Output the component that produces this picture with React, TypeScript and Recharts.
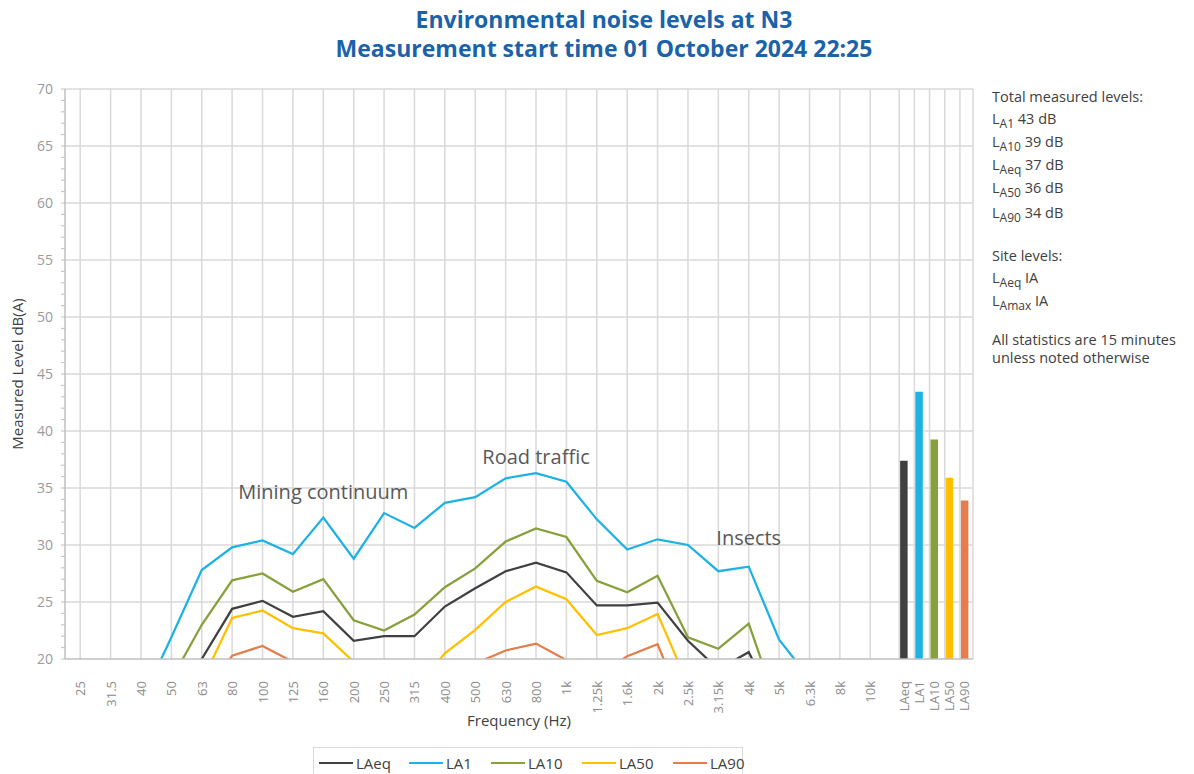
import React from 'react'
import { ComposedChart, Line, Bar, Cell, XAxis, YAxis, CartesianGrid, ReferenceDot } from 'recharts'

// one-third octave band centre frequencies
const FREQS = ['25', '31.5', '40', '50', '63', '80', '100', '125', '160', '200', '250', '315', '400', '500', '630', '800', '1k', '1.25k', '1.6k', '2k', '2.5k', '3.15k', '4k', '5k', '6.3k', '8k', '10k']

// band levels dB(A), values under 20 are off the bottom of the chart
const LAEQ = [10, 11, 12, 15, 20.0, 24.4, 25.1, 23.7, 24.2, 21.6, 22.0, 22.0, 24.6, 26.2, 27.7, 28.45, 27.6, 24.7, 24.7, 24.95, 21.6, 19.1, 20.6, 15.3, 13, 11, 9]
const LA1 = [12, 14, 16.2, 21.9, 27.8, 29.8, 30.4, 29.2, 32.4, 28.8, 32.8, 31.5, 33.7, 34.2, 35.85, 36.3, 35.55, 32.25, 29.6, 30.5, 30.0, 27.7, 28.1, 21.7, 18.3, 16, 14]
const LA10 = [11, 12.5, 14, 18.2, 23.0, 26.9, 27.5, 25.9, 27.0, 23.4, 22.5, 23.9, 26.3, 27.95, 30.3, 31.45, 30.7, 26.85, 25.85, 27.3, 21.9, 20.9, 23.1, 15.4, 13, 11.5, 10]
const LA50 = [9, 10, 11, 13, 18.0, 23.6, 24.25, 22.7, 22.25, 19.75, 17.5, 17.3, 20.5, 22.55, 25.0, 26.35, 25.25, 22.1, 22.7, 23.95, 17.8, 16.5, 17.5, 13, 11, 10, 9]
const LA90 = [8, 9, 10, 12, 16, 20.3, 21.15, 19.75, 18, 16.5, 16, 16.5, 17.5, 19.6, 20.75, 21.35, 19.9, 18.5, 20.25, 21.3, 14.8, 13, 13.5, 11, 10, 9, 8]

// overall levels shown as bars at the right
const TOTAL_NAMES = ['LAeq', 'LA1', 'LA10', 'LA50', 'LA90']
const TOTALS = [37.4, 43.45, 39.25, 35.9, 33.9]

const Y_TICKS = Array.from({ length: 51 }, (_, i) => 20 + i)
const Y_GRID = [25, 30, 35, 40, 45, 50, 55, 60, 65, 70]

const COLORS: Record<string, string> = {
  LAeq: '#404040',
  LA1: '#1cb2e3',
  LA10: '#86a03c',
  LA50: '#ffc000',
  LA90: '#e47c4c',
}

const FONT = '"Open Sans", "Noto Sans", sans-serif'

const barX = (k: number) => FREQS.length + 0.1 + k * 0.5
const X_MAX = FREQS.length + 2.38

const rows = [
  ...FREQS.map((_, i) => ({ x: i, LAeq: LAEQ[i], LA1: LA1[i], LA10: LA10[i], LA50: LA50[i], LA90: LA90[i] })),
  ...TOTAL_NAMES.map((_, k) => ({ x: barX(k), total: TOTALS[k] })),
]

const xTicks = rows.map((r) => r.x)
const xGrid = [
  ...FREQS.map((_, i) => i),
  ...TOTAL_NAMES.map((_, k) => FREQS.length - 0.05 + k * 0.5),
  X_MAX,
]

function xLabel(v: number) {
  if (v < FREQS.length) return FREQS[Math.round(v)]
  return TOTAL_NAMES[Math.round((v - FREQS.length - 0.1) / 0.5)]
}

function XTick({ x, y, payload }: any) {
  const tx = x + 5
  const ty = y + 14
  return (
    <text x={tx} y={ty} transform={`rotate(-90 ${tx} ${ty})`} textAnchor="end" fontSize={13} fill="#8c8c8c" fontFamily={FONT}>
      {xLabel(payload.value)}
    </text>
  )
}

function YTick({ x, y, payload }: any) {
  const v = payload.value
  return (
    <g>
      <line x1={x - 2} x2={x + 2} y1={y} y2={y} stroke="#bfbfbf" strokeWidth={1} />
      {v % 5 === 0 && (
        <text x={x - 10} y={y} dy={5} textAnchor="end" fontSize={14} fill="#9a9a9a" fontFamily={FONT}>
          {v}
        </text>
      )}
    </g>
  )
}

const notes = [
  { text: 'Mining continuum', x: 8, y: 34.65 },
  { text: 'Road traffic', x: 15, y: 37.7 },
  { text: 'Insects', x: 22, y: 30.6 },
]

function Sub({ s }: { s: string }) {
  return (
    <span>
      L<span style={{ fontSize: 12, position: 'relative', top: 4 }}>{s}</span>
    </span>
  )
}

const totalOrder = [1, 2, 0, 3, 4]

export default function App() {
  return (
    <div style={{ position: 'absolute', left: 0, top: 0, width: 1194, height: 774, background: '#fff', fontFamily: FONT }}>
      <div style={{ position: 'absolute', left: 12, top: 5, width: 1184, textAlign: 'center', color: '#1a62aa', fontWeight: 700, fontSize: 23, lineHeight: '29px' }}>
        Environmental noise levels at N3
        <br />
        Measurement start time 01 October 2024 22:25
      </div>

      <ComposedChart width={1194} height={774} data={rows} margin={{ top: 89, right: 221, bottom: 65, left: 5 }}>
        <CartesianGrid stroke="#d9d9d9" strokeWidth={1.5} horizontalValues={Y_GRID} verticalValues={xGrid} />
        <XAxis
          type="number"
          dataKey="x"
          domain={[-0.5, X_MAX]}
          ticks={xTicks}
          interval={0}
          allowDataOverflow
          height={50}
          tick={<XTick />}
          tickLine={false}
          axisLine={{ stroke: '#bfbfbf', strokeWidth: 1.5 }}
          label={({ viewBox }: any) => (
            <text x={viewBox.x + viewBox.width / 2} y={viewBox.y + 67} textAnchor="middle" fontSize={15} fill="#404040" fontFamily={FONT}>
              Frequency (Hz)
            </text>
          )}
        />
        <YAxis
          type="number"
          domain={[20, 70]}
          ticks={Y_TICKS}
          interval={0}
          allowDataOverflow
          width={60}
          tick={<YTick />}
          tickLine={false}
          tickSize={0}
          axisLine={{ stroke: '#bfbfbf', strokeWidth: 1.5 }}
          label={({ viewBox }: any) => {
            const cx = 23
            const cy = viewBox.y + viewBox.height / 2
            return (
              <text x={cx} y={cy} transform={`rotate(-90 ${cx} ${cy})`} textAnchor="middle" fontSize={15} fill="#404040" fontFamily={FONT}>
                Measured Level dB(A)
              </text>
            )
          }}
        />
        <Bar dataKey="total" barSize={7.5} isAnimationActive={false}>
          {rows.map((r, i) => (
            <Cell key={i} fill={i >= FREQS.length ? COLORS[TOTAL_NAMES[i - FREQS.length]] : 'none'} />
          ))}
        </Bar>
        {TOTAL_NAMES.map((n) => (
          <Line key={n} type="linear" dataKey={n} stroke={COLORS[n]} strokeWidth={2.25} dot={false} activeDot={false} isAnimationActive={false} />
        ))}
        {notes.map((n) => (
          <ReferenceDot
            key={n.text}
            x={n.x}
            y={n.y}
            r={0}
            shape={(p: any) => (
              <text x={p.cx} y={p.cy} dy={7} textAnchor="middle" fontSize={20} fill="#595959" fontFamily={FONT}>
                {n.text}
              </text>
            )}
          />
        ))}
      </ComposedChart>

      <div style={{ position: 'absolute', left: 992, top: 86, fontSize: 14.5, color: '#404040', lineHeight: '22px' }}>
        <div>Total measured levels:</div>
        {totalOrder.map((k) => (
          <div key={k} style={{ height: k === 3 ? 25 : 23 }}>
            <Sub s={TOTAL_NAMES[k].slice(1)} /> {Math.round(TOTALS[k])} dB
          </div>
        ))}
        <div style={{ marginTop: 20 }}>Site levels:</div>
        <div>
          <Sub s="Aeq" /> IA
        </div>
        <div>
          <Sub s="Amax" /> IA
        </div>
        <div style={{ marginTop: 18, lineHeight: '18px' }}>
          All statistics are 15 minutes
          <br />
          unless noted otherwise
        </div>
      </div>

      <div style={{ position: 'absolute', left: 313, top: 747, width: 430, height: 32, border: '1px solid #d9d9d9', boxSizing: 'border-box', display: 'flex', alignItems: 'center', fontSize: 15, color: '#404040' }}>
        {TOTAL_NAMES.map((n, k) => (
          <div key={n} style={{ position: 'absolute', left: [5, 95, 177, 268, 359][k], display: 'flex', alignItems: 'center' }}>
            <span style={{ display: 'inline-block', width: 34, height: 2, background: COLORS[n], marginRight: 3 }} />
            {n}
          </div>
        ))}
      </div>
    </div>
  )
}
